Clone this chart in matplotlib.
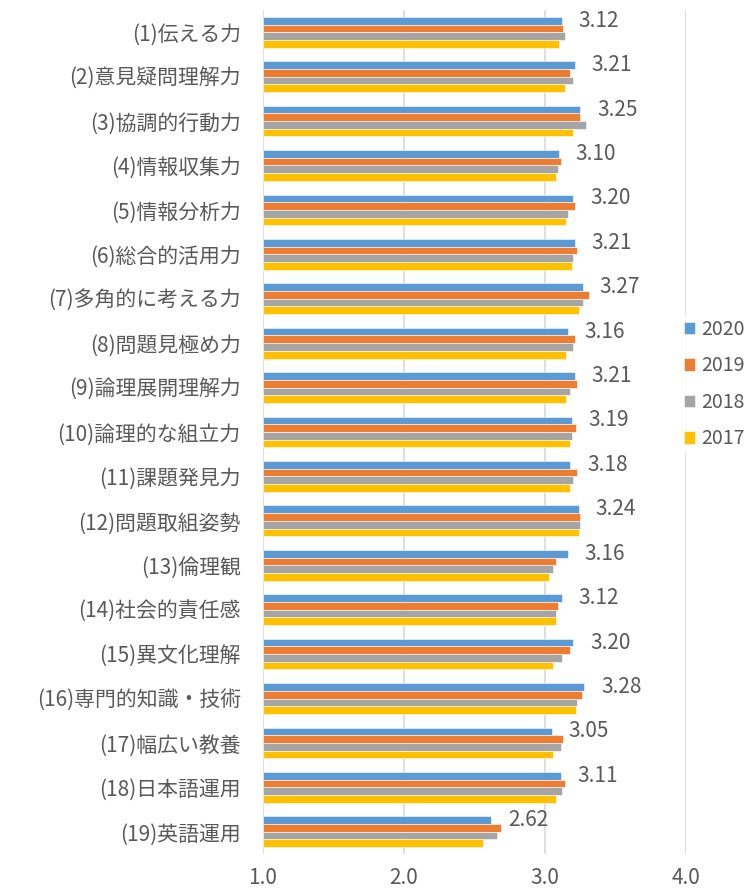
import matplotlib
matplotlib.use("Agg")
import matplotlib.pyplot as plt
import numpy as np

plt.rcParams['font.family'] = ['Noto Sans CJK JP', 'DejaVu Sans']

categories = ["(1)伝える力", "(2)意見疑問理解力", "(3)協調的行動力", "(4)情報収集力",
              "(5)情報分析力", "(6)総合的活用力", "(7)多角的に考える力", "(8)問題見極め力",
              "(9)論理展開理解力", "(10)論理的な組立力", "(11)課題発見力", "(12)問題取組姿勢",
              "(13)倫理観", "(14)社会的責任感", "(15)異文化理解", "(16)専門的知識・技術",
              "(17)幅広い教養", "(18)日本語運用", "(19)英語運用"]

series_names = ["2020", "2019", "2018", "2017"]
v2020 = [3.12, 3.21, 3.25, 3.10, 3.20, 3.21, 3.27, 3.16, 3.21, 3.19, 3.18, 3.24, 3.16, 3.12, 3.20, 3.28, 3.05, 3.11, 2.62]
v2019 = [3.13, 3.18, 3.25, 3.11, 3.21, 3.23, 3.31, 3.21, 3.23, 3.22, 3.23, 3.25, 3.08, 3.09, 3.18, 3.26, 3.13, 3.14, 2.69]
v2018 = [3.14, 3.20, 3.29, 3.09, 3.16, 3.20, 3.27, 3.20, 3.18, 3.19, 3.20, 3.25, 3.06, 3.08, 3.12, 3.23, 3.11, 3.12, 2.66]
v2017 = [3.10, 3.14, 3.20, 3.08, 3.15, 3.19, 3.24, 3.15, 3.15, 3.18, 3.18, 3.24, 3.03, 3.08, 3.06, 3.22, 3.06, 3.08, 2.56]
label_values = ["3.12", "3.21", "3.25", "3.10", "3.20", "3.21", "3.27", "3.16", "3.21", "3.19",
                "3.18", "3.24", "3.16", "3.12", "3.20", "3.28", "3.05", "3.11", "2.62"]
xticks = [1.0, 2.0, 3.0, 4.0]
xticklabels = ["1.0", "2.0", "3.0", "4.0"]

colors = ["#5B9BD5", "#ED7D31", "#A5A5A5", "#FFC000"]
text_color = "#595959"

fig = plt.figure(figsize=(7.48, 8.90), dpi=100)
ax = fig.add_axes([263/748, 1 - 854/890, (686 - 263)/748, (854 - 10)/890])

n = len(categories)
y = np.arange(n)
bh = 0.173
all_series = [v2020, v2019, v2018, v2017]
for i, (vals, name, c) in enumerate(zip(all_series, series_names, colors)):
    offs = (i - 1.5) * bh
    widths = [v - 1.0 for v in vals]
    ax.barh(y + offs, widths, left=1.0, height=bh, color=c, edgecolor='white',
            linewidth=0.4, label=name, zorder=3)

# data labels for 2020
for yi, v, lab in zip(y, v2020, label_values):
    ax.annotate(lab, xy=(v, yi - 1.5 * bh), xytext=(12, 0), textcoords='offset points',
                ha='left', va='center', fontsize=15, color=text_color)

ax.set_xlim(1.0, 4.0)
ax.set_ylim(n - 0.5, -0.5)
ax.set_xticks(xticks)
ax.set_xticklabels(xticklabels, fontsize=15, color=text_color)
ax.set_yticks(y)
ax.set_yticklabels(categories, fontsize=15, color=text_color)
ax.tick_params(axis='y', length=0, pad=16)
ax.tick_params(axis='x', length=0, pad=9)
ax.grid(axis='x', color='#D9D9D9', linewidth=1.2, zorder=0)
for s in ax.spines.values():
    s.set_visible(False)

leg = ax.legend(loc='center left', bbox_to_anchor=(670/748, 1 - 384/890), bbox_transform=fig.transFigure,
                frameon=True, fontsize=14, handlelength=0.6, handleheight=0.6,
                handletextpad=0.3, labelspacing=0.8, borderpad=0.2)
leg.get_frame().set_edgecolor('none')
leg.get_frame().set_facecolor('white')
for t in leg.get_texts():
    t.set_color(text_color)

fig.savefig("out.png", dpi=100)
